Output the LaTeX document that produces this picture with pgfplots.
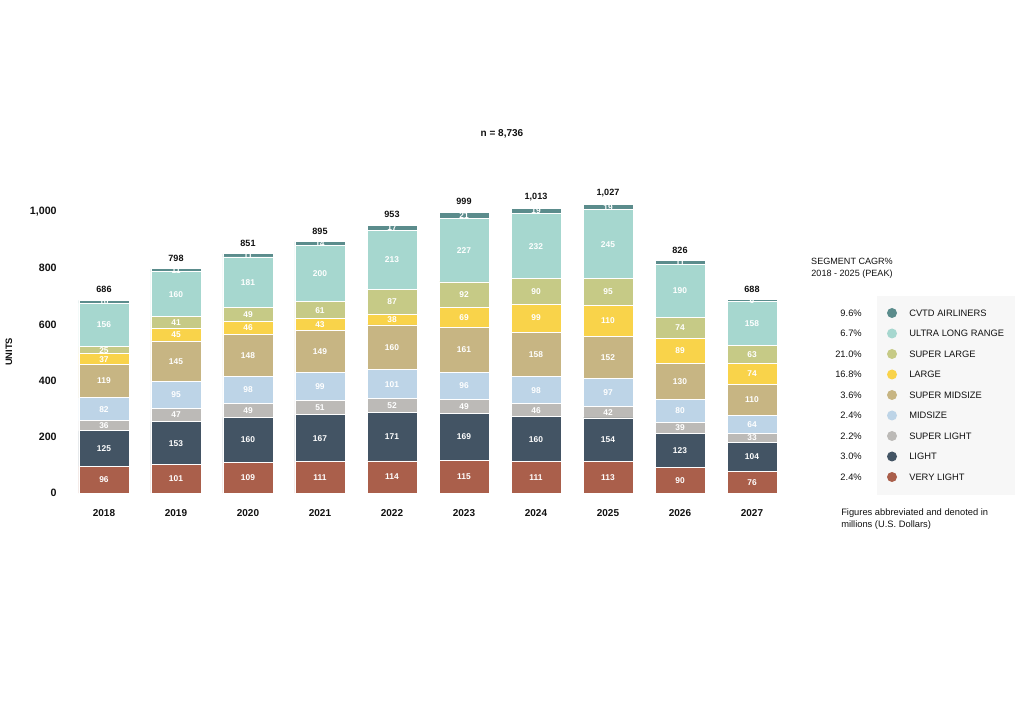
\documentclass[border=0pt]{standalone}
\usepackage{fontspec}
\setmainfont{Liberation Sans}
\usepackage{pgfplots}
\usepackage{pgfplotstable}
\pgfplotsset{compat=1.18}

\definecolor{cvtd}{HTML}{5B8C8C}
\definecolor{ulr}{HTML}{A6D7CF}
\definecolor{slarge}{HTML}{C6CA86}
\definecolor{large}{HTML}{F9D34A}
\definecolor{smid}{HTML}{C7B583}
\definecolor{mid}{HTML}{BDD4E7}
\definecolor{slight}{HTML}{BCBAB7}
\definecolor{light}{HTML}{435464}
\definecolor{vlight}{HTML}{AA5F4B}
\definecolor{panel}{HTML}{F7F7F7}
\definecolor{ink}{HTML}{111111}

% units by year and segment
\pgfplotstableread{
x vl  li  sl mi  sm  la  sg ul  cv tot
0 96  125 36 82  119 37  25 156 10 686
1 101 153 47 95  145 45  41 160 11 798
2 109 160 49 98  148 46  49 181 11 851
3 111 167 51 99  149 43  61 200 14 895
4 114 171 52 101 160 38  87 213 17 953
5 115 169 49 96  161 69  92 227 21 999
6 111 160 46 98  158 99  90 232 19 1013
7 113 154 42 97  152 110 95 245 19 1027
8 90  123 39 80  130 89  74 190 11 826
9 76  104 33 64  110 74  63 158 6  688
}\units

\pgfplotsset{
  frame/.style={
    at={(51pt,155.25pt)}, anchor=south west,
    x=54pt, y=0.210727pt,
    xmin=-0.5, xmax=9.5, ymin=0, ymax=1100,
    clip=false,
    /pgf/number format/1000 sep={,},
    /pgf/number format/assume math mode=true,
  },
  seg/.style={fill=#1, draw=white, line width=0.7pt},
  lab/.style={
    draw=none, mark=none, point meta=explicit,
    nodes near coords,
    nodes near coords style={anchor=center, text=white,
      font=\fontsize{6.3}{7}\selectfont\bfseries, inner sep=0pt},
  },
}

\begin{document}
\begin{tikzpicture}[x=0.75pt,y=0.75pt]
\useasboundingbox (0,0) rectangle (1020,700);

\node[font=\fontsize{7.5}{9}\selectfont\bfseries, text=ink] at (502,700-134) {n = 8,736};

\begin{axis}[
  frame,
  ybar stacked, bar width=37.5pt,
  axis line style={draw=none},
  major tick length=0pt,
  xtick={0,...,9},
  xticklabels={2018,2019,2020,2021,2022,2023,2024,2025,2026,2027},
  ytick={0,200,400,600,800,1000},
  xticklabel style={font=\fontsize{7.5}{9}\selectfont\bfseries, text=ink, yshift=-9pt},
  yticklabel style={font=\fontsize{8}{10}\selectfont\bfseries, text=ink, xshift=-5pt},
]
\addplot[seg=vlight] table[x=x, y=vl] {\units};
\addplot[seg=light]  table[x=x, y=li] {\units};
\addplot[seg=slight] table[x=x, y=sl] {\units};
\addplot[seg=mid]    table[x=x, y=mi] {\units};
\addplot[seg=smid]   table[x=x, y=sm] {\units};
\addplot[seg=large]  table[x=x, y=la] {\units};
\addplot[seg=slarge] table[x=x, y=sg] {\units};
\addplot[seg=ulr]    table[x=x, y=ul] {\units};
\addplot[seg=cvtd]   table[x=x, y=cv] {\units};
\end{axis}

% segment values and totals, same frame, not stacked
\begin{axis}[frame, hide axis]
\addplot[lab] table[x=x, meta=vl, y expr=\thisrow{vl}/2] {\units};
\addplot[lab] table[x=x, meta=li, y expr=\thisrow{vl}+\thisrow{li}/2] {\units};
\addplot[lab] table[x=x, meta=sl, y expr=\thisrow{vl}+\thisrow{li}+\thisrow{sl}/2] {\units};
\addplot[lab] table[x=x, meta=mi, y expr=\thisrow{vl}+\thisrow{li}+\thisrow{sl}+\thisrow{mi}/2] {\units};
\addplot[lab] table[x=x, meta=sm, y expr=\thisrow{vl}+\thisrow{li}+\thisrow{sl}+\thisrow{mi}+\thisrow{sm}/2] {\units};
\addplot[lab] table[x=x, meta=la, y expr=\thisrow{tot}-\thisrow{cv}-\thisrow{ul}-\thisrow{sg}-\thisrow{la}/2] {\units};
\addplot[lab] table[x=x, meta=sg, y expr=\thisrow{tot}-\thisrow{cv}-\thisrow{ul}-\thisrow{sg}/2] {\units};
\addplot[lab] table[x=x, meta=ul, y expr=\thisrow{tot}-\thisrow{cv}-\thisrow{ul}/2] {\units};
\addplot[lab] table[x=x, meta=cv, y expr=\thisrow{tot}-\thisrow{cv}/2] {\units};
\addplot[draw=none, mark=none, point meta=explicit,
  nodes near coords,
  nodes near coords style={anchor=south, text=ink, yshift=2pt,
    font=\fontsize{6.8}{8}\selectfont\bfseries}]
  table[x=x, y=tot, meta=tot] {\units};
\end{axis}

\node[rotate=90, font=\fontsize{7}{8}\selectfont\bfseries, text=ink] at (9,700-352) {UNITS};

% legend
\node[align=center, font=\fontsize{6.8}{9}\selectfont, text=ink] at (852,700-268)
  {SEGMENT CAGR\%\\2018 - 2025 (PEAK)};
\fill[panel] (877,700-296) rectangle (1015,700-495);
\foreach \c/\p/\n [count=\i from 0] in {
  cvtd/9.6\%/CVTD AIRLINERS,
  ulr/6.7\%/ULTRA LONG RANGE,
  slarge/21.0\%/SUPER LARGE,
  large/16.8\%/LARGE,
  smid/3.6\%/SUPER MIDSIZE,
  mid/2.4\%/MIDSIZE,
  slight/2.2\%/SUPER LIGHT,
  light/3.0\%/LIGHT,
  vlight/2.4\%/VERY LIGHT}{
  \pgfmathsetmacro\yy{700-313-20.5*\i}
  \fill[\c] (892,\yy) circle (5);
  \node[anchor=west, inner sep=0pt, font=\fontsize{7}{8}\selectfont, text=ink] at (909,\yy) {\n};
  \node[anchor=east, inner sep=0pt, font=\fontsize{7}{8}\selectfont, text=ink] at (862,\yy) {\p};
}
\node[anchor=north west, align=left, inner sep=0pt, font=\fontsize{7}{9.5}\selectfont, text=ink]
  at (841,700-508) {Figures abbreviated and denoted in\\millions (U.S. Dollars)};
\end{tikzpicture}
\end{document}
